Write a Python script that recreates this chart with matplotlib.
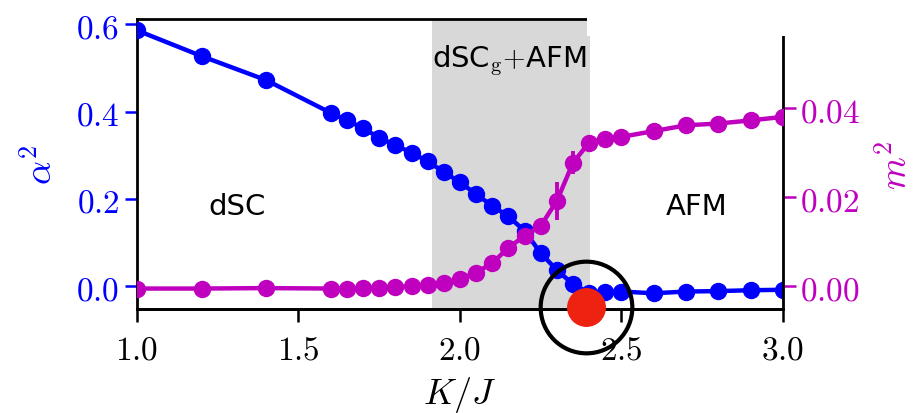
import matplotlib
matplotlib.use("Agg")
import matplotlib.pyplot as plt
from matplotlib.ticker import FormatStrFormatter
from matplotlib.patches import Rectangle

plt.rcParams['mathtext.fontset'] = 'cm'

# K/J values
k_j = [1.0, 1.2, 1.4, 1.6, 1.65, 1.7, 1.75, 1.8, 1.85, 1.9, 1.95, 2.0, 2.05, 2.1,
       2.15, 2.2, 2.25, 2.3, 2.35, 2.4, 2.45, 2.5, 2.6, 2.7, 2.8, 2.9, 3.0]

# alpha^2 (left axis)
alpha_sq = [0.586, 0.527, 0.472, 0.397, 0.380, 0.362, 0.340, 0.323, 0.306, 0.286,
            0.262, 0.238, 0.211, 0.184, 0.160, 0.127, 0.076, 0.037, 0.005, -0.015,
            -0.013, -0.012, -0.016, -0.012, -0.011, -0.009, -0.008]

# m^2 (right axis) and its error
m_sq = [-0.0005, -0.0005, -0.0004, -0.0005, -0.0005, -0.0004, -0.0003, -0.0002, 0.0001,
        0.0003, 0.0008, 0.0017, 0.0031, 0.0052, 0.0087, 0.0113, 0.0136, 0.0192, 0.0278,
        0.0323, 0.0332, 0.0336, 0.0349, 0.0362, 0.0366, 0.0373, 0.0381]
m_err = [0, 0, 0, 0, 0, 0, 0, 0, 0, 0, 0, 0, 0, 0, 0, 0, 0, 0.0042, 0.0026,
         0, 0, 0, 0, 0, 0, 0, 0]

coex_region = (1.913, 2.404)
critical_point = (2.39, -0.048)

fig = plt.figure(figsize=(9.15, 4.14), dpi=100)
ax = fig.add_axes([0.1497, 0.2512, 0.706, 0.7005])
ax2 = ax.twinx()

ax.axvspan(coex_region[0], coex_region[1], color='#d8d8d8', lw=0, zorder=0)
ax.plot(k_j, alpha_sq, '-o', color='b', lw=3.2, ms=11.5, zorder=3)
ax2.errorbar(k_j, m_sq, yerr=m_err, fmt='-o', color='m', lw=3.2, ms=11.5,
             elinewidth=2.8, capsize=0, zorder=3)

# marked point
ax2.plot(*critical_point, 'o', color='#ee2211', ms=27, transform=ax.transData,
         clip_on=False, zorder=10)
ax2.plot(*critical_point, 'o', mfc='none', mec='k', mew=3, ms=66,
         transform=ax.transData, clip_on=False, zorder=11)

ax.set_xlim(1.0, 3.0)
ax.set_ylim(-0.052, 0.612)
ax2.set_ylim(-0.0051, 0.0601)

ax.set_xticks([1.0, 1.5, 2.0, 2.5, 3.0])
ax.set_yticks([0.0, 0.2, 0.4, 0.6])
ax2.set_yticks([0.0, 0.02, 0.04])
ax.xaxis.set_major_formatter(FormatStrFormatter('$%.1f$'))
ax.yaxis.set_major_formatter(FormatStrFormatter('$%.1f$'))
ax2.yaxis.set_major_formatter(FormatStrFormatter('$%.2f$'))

ax.tick_params(axis='x', labelsize=24, length=9, width=1.8, colors='k', pad=8)
ax.tick_params(axis='y', labelsize=24, length=9, width=1.8, colors='b', labelcolor='b')
ax2.tick_params(axis='y', labelsize=24, length=9, width=1.8, colors='m', labelcolor='m')

ax.set_xlabel('$K/J$', fontsize=26, labelpad=6)
ax.set_ylabel(r'$\alpha^2$', fontsize=27, color='b', labelpad=12)
ax2.set_ylabel('$m^2$', fontsize=27, color='m', labelpad=12)

for sp in ['left', 'right', 'top', 'bottom']:
    ax.spines[sp].set_linewidth(2)
    ax2.spines[sp].set_linewidth(2)
ax.spines['right'].set_visible(False)
ax2.spines['top'].set_visible(False)
ax2.spines['left'].set_visible(False)
ax.spines['top'].set_bounds(1.0, 2.393)
ax2.spines['right'].set_bounds(-0.0051, 0.0562)

ax.text(1.31, 0.184, 'dSC', fontsize=21, ha='center', va='center', family='DejaVu Sans')
ax.text(2.734, 0.184, 'AFM', fontsize=21, ha='center', va='center', family='DejaVu Sans')
ax.text(2.153, 0.52, r'dSC$_{\rm g}$$+$AFM', fontsize=21, ha='center', va='center',
        family='DejaVu Sans')

# blank strip above the right part of the frame
fig.patches.append(Rectangle((587 / 915, 1 - 37 / 414), 0.3, 37 / 414, transform=fig.transFigure,
                             facecolor='white', edgecolor='none', zorder=5))

fig.savefig('out.png', dpi=100)
